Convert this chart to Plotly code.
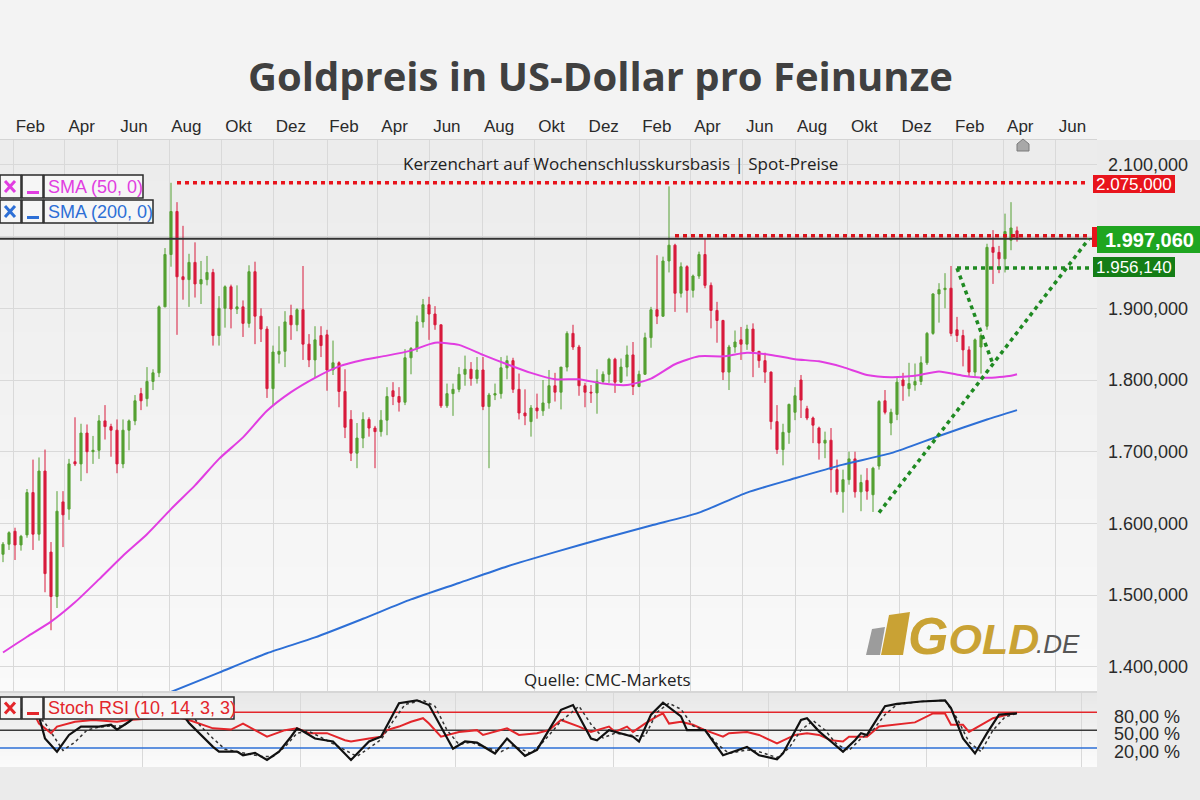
import pandas as pd
import plotly.graph_objects as go

# ---------------- data ----------------
first_week = "2020-01-20"   # Monday of the first weekly candle

opens = [1557,1571,1589,1570,1584,1643,1585,1673,1560,1498,1630,1620,1686,1683,1726,1700,1702,1743,1735,1730,
         1683,1730,1743,1781,1774,1798,1810,1902,1975,2035,1944,1940,1964,1934,1940,1950,1862,1900,1930,1899,
         1902,1879,1951,1889,1871,1788,1836,1840,1890,1877,1898,1850,1828,1862,1863,1814,1824,1784,1745,1698,
         1719,1745,1733,1728,1744,1785,1777,1769,1831,1844,1881,1905,1892,1877,1764,1781,1787,1808,1815,1802,
         1814,1763,1779,1781,1817,1827,1787,1754,1742,1761,1757,1768,1792,1783,1818,1865,1846,1792,1783,1782,
         1798,1808,1829,1797,1818,1835,1791,1808,1859,1898,1889,1966,1988,1921,1958,1925,1945,1975,1932,1897,
         1883,1811,1846,1856,1850,1871,1840,1827,1811,1742,1703,1727,1755,1800,1760,1747,1733,1712,1716,1675,
         1644,1661,1690,1644,1660,1640,1680,1771,1740,1752,1800,1788,1793,1798,1824,1865,1920,1926,1928,1870,
         1862,1842,1811,1846,1875,1985,1978,1969,1995,2008]
highs = [1574,1589,1594,1584,1648,1689,1692,1703,1574,1645,1645,1690,1748,1739,1738,1722,1751,1765,1739,1745,
         1745,1745,1779,1789,1818,1815,1904,1984,2075,2048,2015,1976,1992,1966,1973,1955,1917,1932,1933,1932,
         1911,1960,1965,1900,1875,1848,1875,1896,1905,1900,1959,1864,1875,1875,1870,1855,1826,1815,1758,1740,
         1755,1748,1736,1758,1790,1797,1790,1843,1846,1890,1913,1916,1903,1877,1795,1795,1818,1834,1825,1832,
         1832,1782,1795,1832,1834,1831,1809,1787,1765,1781,1800,1814,1810,1818,1868,1877,1849,1796,1793,1815,
         1812,1831,1831,1830,1848,1853,1813,1866,1902,1974,1972,2070,1990,1964,1960,1947,1979,1998,1936,1909,
         1884,1849,1869,1874,1877,1879,1840,1838,1812,1765,1739,1767,1790,1807,1764,1749,1735,1728,1733,1689,
         1675,1700,1700,1668,1677,1679,1772,1786,1760,1803,1810,1824,1823,1833,1867,1921,1935,1949,1959,1888,
         1870,1847,1858,1865,1990,2009,1987,2032,2048,2014]
lows = [1546,1563,1549,1562,1580,1563,1576,1504,1451,1482,1567,1605,1680,1659,1670,1683,1690,1717,1693,1670,
        1677,1702,1737,1758,1763,1786,1804,1902,1958,1863,1912,1902,1915,1906,1932,1848,1848,1873,1872,1892,
        1860,1873,1850,1853,1775,1764,1823,1818,1856,1868,1828,1818,1803,1832,1785,1807,1762,1719,1687,1677,
        1705,1721,1677,1721,1723,1765,1756,1765,1808,1839,1873,1856,1870,1761,1761,1750,1783,1792,1792,1795,
        1758,1677,1772,1774,1801,1782,1745,1737,1721,1746,1750,1760,1770,1759,1812,1842,1778,1762,1768,1753,
        1795,1796,1782,1796,1805,1779,1790,1807,1845,1878,1888,1950,1895,1915,1894,1915,1941,1928,1872,1852,
        1800,1786,1838,1828,1842,1804,1817,1796,1731,1697,1681,1711,1744,1747,1744,1712,1689,1691,1643,1640,
        1615,1654,1636,1617,1633,1616,1675,1752,1723,1744,1771,1777,1785,1793,1821,1863,1880,1900,1861,1853,
        1819,1805,1804,1809,1870,1934,1949,1950,1981,1993]
closes = [1571,1587,1570,1582,1643,1585,1673,1530,1498,1617,1612,1683,1683,1726,1700,1702,1743,1735,1730,1683,
          1730,1743,1771,1771,1798,1810,1902,1975,2035,1944,1940,1964,1934,1940,1950,1862,1900,1930,1899,1902,
          1879,1951,1889,1871,1788,1839,1840,1881,1877,1898,1850,1828,1856,1848,1814,1824,1784,1734,1698,1719,
          1745,1733,1728,1744,1777,1777,1769,1831,1844,1881,1905,1892,1877,1764,1781,1787,1808,1815,1802,1814,
          1763,1779,1781,1817,1827,1787,1754,1750,1761,1757,1768,1792,1783,1818,1865,1846,1792,1783,1782,1798,
          1808,1829,1797,1818,1835,1791,1808,1859,1898,1889,1966,1988,1921,1958,1925,1945,1975,1932,1897,1883,
          1811,1846,1853,1850,1871,1840,1827,1811,1742,1703,1727,1766,1778,1772,1747,1737,1712,1716,1675,1644,
          1661,1690,1644,1657,1645,1677,1770,1755,1755,1797,1792,1795,1798,1824,1865,1920,1926,1928,1865,1862,
          1842,1811,1856,1862,1985,1978,1969,2007,2012,1997]

# moving averages (week index -> value)
sma50_week = list(range(0, 169, 4)) + [169]
sma50 = [1420,1442,1463,1490,1522,1555,1585,1620,1653,1690,1720,1757,1783,1803,1819,1828,1834,1841,1852,1849,
         1835,1822,1810,1801,1801,1795,1793,1802,1822,1833,1833,1838,1835,1829,1826,1818,1807,1804,1806,1812,
         1806,1803,1806,1808]
sma200_week = [28,36,44,52,60,68,76,84,92,100,108,116,124,132,140,148,156,164,169]
sma200 = [1365,1392,1419,1441,1467,1494,1517,1540,1560,1579,1597,1615,1643,1663,1682,1698,1722,1745,1758]

# Stoch RSI panel
stoch_k_week = [0,3,6,7,9,11,13,16,18,19,21,24,27,29,31,33,35,36,39,40,42,44,46,48,49,50,52,55,58,61,63,66,69,71,
                75,77,79,82,84,87,89,93,95,98,99,101,105,106,108,110,113,114,117,120,124,126,129,130,133,134,136,
                138,140,142,143,144,147,149,153,157,158,160,162,164,166,169]
stoch_k = [88,85,73,36,14,42,56,56,59,51,64,92,100,90,62,42,22,14,14,8,12,0,14,39,53,48,36,31,0,31,39,95,100,92,
           19,31,29,11,36,7,17,84,92,36,33,50,39,31,76,96,73,50,50,8,22,8,1,11,67,70,48,
           31,14,33,45,42,90,94,98,100,87,36,11,45,76,78]
stoch_d_week = [0,5,7,9,10,12,14,16,18,20,22,25,28,31,33,35,37,39,41,43,45,47,49,51,53,56,59,61,63,65,67,70,72,74,
                76,78,80,83,85,88,90,93,96,98,100,102,105,107,109,111,113,115,117,119,121,124,126,129,131,133,135,
                137,139,141,143,145,147,149,153,157,159,161,163,165,167,169]
stoch_d = [88,82,62,30,16,30,50,55,57,57,70,92,100,80,56,36,18,14,10,6,6,22,45,48,38,22,6,20,34,65,93,100,90,50,
           26,30,22,14,24,11,30,65,90,60,37,45,41,40,80,95,85,57,50,27,11,17,14,4,20,50,66,
           50,26,16,36,50,76,93,98,100,70,30,14,50,72,78]
stoch_red_week = [5,6,8,9,12,15,19,21,25,29,31,35,38,40,42,44,47,49,51,54,57,58,61,63,64,66,68,70,71,73,76,79,80,
                  82,84,86,89,91,93,96,98,99,101,102,104,105,107,109,110,111,113,115,117,120,121,124,126,129,132,
                  134,136,138,140,141,144,146,149,152,155,157,158,160,161,162,165,167,169]
stoch_red = [81,61,45,56,64,67,64,67,70,72,67,53,51,61,50,39,50,53,45,45,33,31,36,39,50,56,64,70,61,39,47,50,42,
             47,53,42,45,50,67,56,47,50,56,47,56,47,61,73,78,61,64,59,50,39,45,47,42,28,42,
             45,42,33,31,39,39,56,59,63,78,78,59,59,47,53,70,75,79]

month_ticks = pd.date_range("2020-02-01", "2023-06-01", freq="2MS")
month_labels = ["Feb", "Apr", "Jun", "Aug", "Okt", "Dez"] * 3 + ["Feb", "Apr", "Jun"]
price_ticks = [1400, 1500, 1600, 1700, 1800, 1900, 2000, 2100]
price_labels = ["1.400,000", "1.500,000", "1.600,000", "1.700,000", "1.800,000", "1.900,000", "", "2.100,000"]
stoch_ticks = [20, 50, 80]
stoch_labels = ["20,00 %", "50,00 %", "80,00 %"]
stoch_levels = [(80, "#e3262b"), (50, "#3a3a3a"), (20, "#2d6fd6")]

level_high = 2075.0       # red dotted
level_resist = 2001.0     # red dotted (partly hidden label)
last_close = 1997.06      # black line / green box
level_support = 1956.14   # green dotted
trend_start_week, trend_start_val = 146, 1615
v_end_week, v_end_val = 165, 1822
line_end = "2023-07-10"

# ---------------- styling ----------------
W, H = 1200, 800
PLOT_R = 1097
GREEN = "#55a032"
RED = "#d81b3c"
MAGENTA = "#e13de1"
BLUE = "#2d6fd6"
ARIAL = "Liberation Sans, Arial, sans-serif"
OPEN = "Open Sans, sans-serif"

weeks = pd.date_range(first_week, periods=len(closes), freq="7D")
wk = lambda idx: [weeks[i] for i in idx]
x_left = (weeks[0] - pd.Timedelta(hours=84)).strftime("%Y-%m-%d %H:%M")
x_right = (weeks[0] + pd.Timedelta(hours=round((PLOT_R - 3) / 6 * 7 * 24))).strftime("%Y-%m-%d %H:%M")


def ppx(x):
    return x / W


def ppy(y):
    return 1 - y / H


def prect(x0, y0, x1, y1, fill, line_color=None, lw=0, layer="above"):
    return dict(type="rect", xref="paper", yref="paper", x0=ppx(x0), x1=ppx(x1), y0=ppy(y1), y1=ppy(y0),
                fillcolor=fill, line=dict(color=line_color or fill, width=lw), layer=layer)


def pline(x0, y0, x1, y1, color, lw):
    return dict(type="line", xref="paper", yref="paper", x0=ppx(x0), x1=ppx(x1), y0=ppy(y0), y1=ppy(y1),
                line=dict(color=color, width=lw), layer="above")


fig = go.Figure()

fig.add_trace(go.Candlestick(
    x=weeks, open=opens, high=highs, low=lows, close=closes,
    increasing=dict(line=dict(color=GREEN, width=1), fillcolor=GREEN),
    decreasing=dict(line=dict(color=RED, width=1), fillcolor=RED),
    whiskerwidth=0, xaxis="x", yaxis="y", hoverinfo="skip"))
fig.add_trace(go.Scatter(x=wk(sma50_week), y=sma50, mode="lines",
                         line=dict(color=MAGENTA, width=2, shape="spline", smoothing=0.6),
                         xaxis="x", yaxis="y", hoverinfo="skip"))
fig.add_trace(go.Scatter(x=wk(sma200_week), y=sma200, mode="lines",
                         line=dict(color=BLUE, width=2, shape="spline", smoothing=0.6),
                         xaxis="x", yaxis="y", hoverinfo="skip"))

for val, col in stoch_levels:
    fig.add_trace(go.Scatter(x=[x_left, x_right], y=[val, val], mode="lines", line=dict(color=col, width=1.5),
                             xaxis="x2", yaxis="y2", hoverinfo="skip"))
fig.add_trace(go.Scatter(x=wk(stoch_red_week), y=stoch_red, mode="lines", line=dict(color="#e3262b", width=2),
                         xaxis="x2", yaxis="y2", hoverinfo="skip"))
fig.add_trace(go.Scatter(x=wk(stoch_d_week), y=stoch_d, mode="lines",
                         line=dict(color="#333333", width=1.5, dash="dot"),
                         xaxis="x2", yaxis="y2", hoverinfo="skip"))
fig.add_trace(go.Scatter(x=wk(stoch_k_week), y=stoch_k, mode="lines", line=dict(color="#111111", width=2.2),
                         xaxis="x2", yaxis="y2", hoverinfo="skip"))

shapes = []
# background gradients
N = 40
top, bot = 140, 691
for i in range(N):
    y0 = top + (bot - top) * i / N
    y1 = top + (bot - top) * (i + 1) / N + 0.5
    g = int(236 + (250 - 236) * i / (N - 1))
    shapes.append(prect(0, y0, PLOT_R, y1, f"rgb({g},{g},{g})", layer="below"))
top2, bot2 = 693, 767
for i in range(20):
    y0 = top2 + (bot2 - top2) * i / 20
    y1 = top2 + (bot2 - top2) * (i + 1) / 20 + 0.5
    g = int(232 + (251 - 232) * i / 19)
    shapes.append(prect(0, y0, PLOT_R, y1, f"rgb({g},{g},{g})", layer="below"))
shapes.append(prect(PLOT_R, 140, W, H, "#ebebeb", layer="below"))
shapes.append(prect(0, 767, W, H, "#ebebeb", layer="below"))
shapes.append(prect(0, 691, PLOT_R, 693, "#d6d6d6", layer="below"))

DOT = "4px,4px"
shapes += [
    dict(type="line", xref="x", yref="y", x0=weeks[29], x1=line_end, y0=level_high, y1=level_high,
         line=dict(color="#e8141c", width=3.5, dash=DOT), layer="above"),
    dict(type="line", xref="paper", yref="y", x0=0, x1=PLOT_R / W, y0=last_close, y1=last_close,
         line=dict(color="#333333", width=2), layer="above"),
    dict(type="line", xref="x", yref="y", x0=weeks[112], x1=line_end, y0=level_resist, y1=level_resist,
         line=dict(color="#d8141c", width=3.5, dash=DOT), layer="above"),
    dict(type="line", xref="x", yref="y", x0=weeks[159], x1=line_end, y0=level_support, y1=level_support,
         line=dict(color="#1f8a22", width=3.5, dash=DOT), layer="above"),
    dict(type="line", xref="x", yref="y", x0=weeks[trend_start_week], x1=line_end, y0=trend_start_val, y1=last_close,
         line=dict(color="#1f8a22", width=3.5, dash=DOT), layer="above"),
    dict(type="line", xref="x", yref="y", x0=weeks[159], x1=weeks[v_end_week], y0=level_support, y1=v_end_val,
         line=dict(color="#1f8a22", width=3.5, dash=DOT), layer="above"),
]

# price label boxes
shapes += [
    prect(1093, 175, 1175, 193, "#e8141c"),
    prect(1092, 227, 1100, 247, "#e8141c"),
    prect(1097, 226, 1200, 253, "#1fa520"),
    prect(1093, 257, 1175, 277, "#147d16"),
]

# indicator legend boxes
BOX_FILL = "#f6f6f6"
for (y0, y1, wtext, col) in [(175, 198, 143, MAGENTA), (200, 223, 153, BLUE), (697, 719, 234, "#e3262b")]:
    shapes.append(prect(0, y0, 21, y1, BOX_FILL, "#2a2a2a", 1.5))
    shapes.append(prect(22, y0, 43, y1, BOX_FILL, "#2a2a2a", 1.5))
    shapes.append(prect(44, y0, wtext, y1, BOX_FILL, "#2a2a2a", 1.5))
    cy = (y0 + y1) / 2
    shapes.append(pline(5, cy - 5.5, 15, cy + 5.5, col, 3))
    shapes.append(pline(5, cy + 5.5, 15, cy - 5.5, col, 3))
    shapes.append(prect(27, y1 - 7, 39, y1 - 4, col))

# small marker on top
shapes.append(dict(type="path", xref="paper", yref="paper",
                   path=f"M {ppx(1017)},{ppy(151)} L {ppx(1017)},{ppy(144)} L {ppx(1023)},{ppy(139)} "
                        f"L {ppx(1029)},{ppy(144)} L {ppx(1029)},{ppy(151)} Z",
                   fillcolor="#a8a8a8", line=dict(color="#7a7a7a", width=1), layer="above"))

# logo bars
shapes.append(dict(type="path", xref="paper", yref="paper",
                   path=f"M {ppx(866)},{ppy(655)} L {ppx(872)},{ppy(629)} L {ppx(885)},{ppy(627)} L {ppx(880)},{ppy(655)} Z",
                   fillcolor="#9c9c9c", line=dict(width=0), layer="above"))
shapes.append(dict(type="path", xref="paper", yref="paper",
                   path=f"M {ppx(881)},{ppy(655)} L {ppx(889)},{ppy(615)} L {ppx(910)},{ppy(612)} L {ppx(903)},{ppy(655)} Z",
                   fillcolor="#c9a234", line=dict(width=0), layer="above"))

annotations = [
    dict(text="<b>Goldpreis in US-Dollar pro Feinunze</b>", x=0.5, y=ppy(76), xref="paper", yref="paper",
         showarrow=False, font=dict(family=OPEN, size=40, color="#404040"), xanchor="center", yanchor="middle"),
    dict(text="Kerzenchart auf Wochenschlusskursbasis | Spot-Preise", x=ppx(620), y=ppy(163), xref="paper",
         yref="paper", showarrow=False, font=dict(family=OPEN, size=17, color="#222222"),
         xanchor="center", yanchor="middle"),
    dict(text="Quelle: CMC-Markets", x=ppx(607), y=ppy(679), xref="paper", yref="paper",
         showarrow=False, font=dict(family=OPEN, size=17, color="#222222"), xanchor="center", yanchor="middle"),
    dict(text="2.075,000", x=ppx(1134), y=ppy(184), xref="paper", yref="paper", showarrow=False,
         font=dict(family=ARIAL, size=17, color="white"), xanchor="center", yanchor="middle"),
    dict(text="<b>1.997,060</b>", x=ppx(1149), y=ppy(240), xref="paper", yref="paper", showarrow=False,
         font=dict(family=ARIAL, size=20, color="white"), xanchor="center", yanchor="middle"),
    dict(text="1.956,140", x=ppx(1134), y=ppy(267), xref="paper", yref="paper", showarrow=False,
         font=dict(family=ARIAL, size=17, color="white"), xanchor="center", yanchor="middle"),
    dict(text="SMA (50, 0)", x=ppx(46), y=ppy(187), xref="paper", yref="paper", showarrow=False,
         font=dict(family=ARIAL, size=18, color=MAGENTA), xanchor="left", yanchor="middle"),
    dict(text="SMA (200, 0)", x=ppx(46), y=ppy(212), xref="paper", yref="paper", showarrow=False,
         font=dict(family=ARIAL, size=18, color=BLUE), xanchor="left", yanchor="middle"),
    dict(text="Stoch RSI (10, 14, 3, 3)", x=ppx(46), y=ppy(708), xref="paper", yref="paper", showarrow=False,
         font=dict(family=ARIAL, size=18, color="#e3262b"), xanchor="left", yanchor="middle"),
    dict(text='<b><i><span style="font-size:52px">G</span>OLD</i></b>', x=ppx(906), y=ppy(636), xref="paper",
         yref="paper", showarrow=False, font=dict(family=ARIAL, size=43, color="#c9a234"),
         xanchor="left", yanchor="middle"),
    dict(text="<i>.DE</i>", x=ppx(1034), y=ppy(644), xref="paper", yref="paper", showarrow=False,
         font=dict(family=ARIAL, size=26, color="#555555"), xanchor="left", yanchor="middle"),
]

fig.update_layout(
    width=W, height=H, margin=dict(l=0, r=0, t=0, b=0),
    paper_bgcolor="#f3f3f3", plot_bgcolor="rgba(0,0,0,0)",
    showlegend=False, boxgap=0.5, hovermode=False,
    shapes=shapes, annotations=annotations,
    xaxis=dict(domain=[0, PLOT_R / W], range=[x_left, x_right], side="top", anchor="y",
               tickvals=month_ticks, ticktext=month_labels, ticklabelshift=17,
               showgrid=True, gridcolor="#d9d9d9", gridwidth=1, zeroline=False,
               showline=True, linecolor="#d4d4d4", ticks="",
               tickfont=dict(family=ARIAL, size=17, color="#2a2a2a"), rangeslider=dict(visible=False)),
    yaxis=dict(domain=[ppy(691), ppy(140)], range=[1366.3, 2134.7], side="right", anchor="x",
               tickvals=price_ticks, ticktext=price_labels, showgrid=True, gridcolor="#d9d9d9",
               zeroline=False, ticks="", ticklabelstandoff=10,
               tickfont=dict(family=ARIAL, size=18, color="#2a2a2a")),
    xaxis2=dict(domain=[0, PLOT_R / W], matches="x", anchor="y2", showticklabels=False,
                showgrid=True, gridcolor="#d9d9d9", zeroline=False, ticks="", rangeslider=dict(visible=False)),
    yaxis2=dict(domain=[ppy(767), ppy(693)], range=[-11.7, 112.2], side="right", anchor="x2",
                tickvals=stoch_ticks, ticktext=stoch_labels, showgrid=False, zeroline=False, ticks="",
                ticklabelstandoff=16, ticklabelshift=4, tickfont=dict(family=ARIAL, size=18, color="#2a2a2a")),
)

fig.write_html("out.html")
